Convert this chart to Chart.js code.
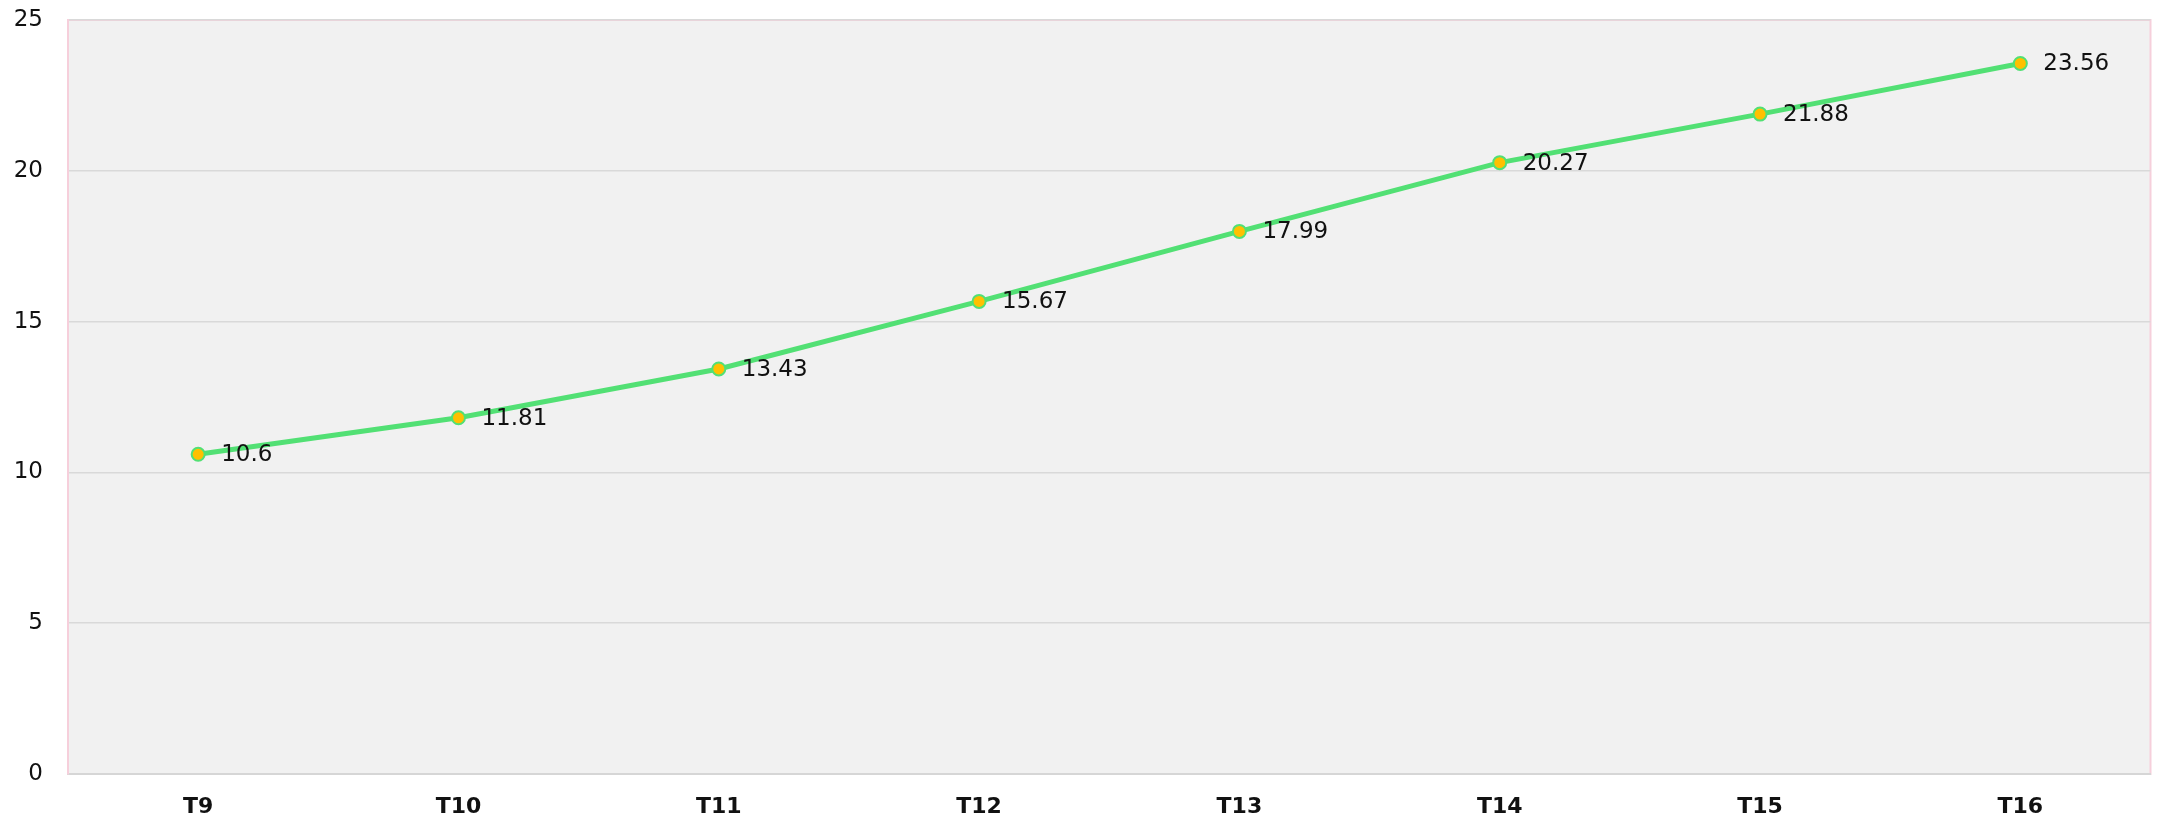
<!DOCTYPE html>
<html>
<head>
<meta charset="utf-8">
<script src="https://cdn.jsdelivr.net/npm/chart.js@4/dist/chart.umd.min.js"></script>
<style>
  html, body { margin: 0; padding: 0; background: #fff; }
  #wrap { width: 2159px; height: 822px; }
</style>
</head>
<body>
<div id="wrap"><canvas id="chart"></canvas></div>
<script>
const labels = ['T9', 'T10', 'T11', 'T12', 'T13', 'T14', 'T15', 'T16'];
const valores = [10.6, 11.81, 13.43, 15.67, 17.99, 20.27, 21.88, 23.56];
const yTicks = [0, 5, 10, 15, 20, 25];

const FONTE = '"DejaVu Sans", sans-serif';

// fundo cinza + borda rosa da área do gráfico
const plotBg = {
  id: 'plotBg',
  beforeDraw(chart) {
    const { ctx, chartArea: a } = chart;
    ctx.save();
    ctx.fillStyle = '#f1f1f1';
    ctx.fillRect(a.left, a.top, a.right - a.left, a.bottom - a.top);
    ctx.strokeStyle = '#f6cfdb';
    ctx.lineWidth = 2;
    ctx.strokeRect(a.left, a.top, a.right - a.left, a.bottom - a.top);
    ctx.restore();
  },
};

// rótulos de valor à direita de cada ponto
const valueLabels = {
  id: 'valueLabels',
  afterDatasetsDraw(chart) {
    const { ctx } = chart;
    const meta = chart.getDatasetMeta(0);
    ctx.save();
    ctx.font = '23px ' + FONTE;
    ctx.fillStyle = '#111';
    ctx.textAlign = 'left';
    ctx.textBaseline = 'middle';
    meta.data.forEach((pt, i) => {
      ctx.fillText(String(valores[i]), pt.x + 23, pt.y + 1);
    });
    ctx.restore();
  },
};

new Chart(document.getElementById('chart'), {
  type: 'line',
  data: {
    labels,
    datasets: [{
      data: valores,
      borderColor: '#52e074',
      borderWidth: 5,
      backgroundColor: '#ffc000',
      pointBackgroundColor: '#ffc000',
      pointBorderColor: '#52e074',
      pointBorderWidth: 2,
      pointRadius: 6.5,
      tension: 0,
      fill: false,
    }],
  },
  options: {
    responsive: true,
    maintainAspectRatio: false,
    animation: false,
    layout: { padding: { top: 20, right: 8, left: 0, bottom: 0 } },
    plugins: { legend: { display: false }, tooltip: { enabled: false } },
    scales: {
      x: {
        offset: true,
        grid: { display: false },
        border: { color: '#d6d6d6', width: 2 },
        ticks: { color: '#111', padding: 12, font: { family: FONTE, size: 22, weight: 'bold' } },
        afterFit: s => { s.height = 48; s.paddingLeft = 0; s.paddingRight = 0; },
      },
      y: {
        min: yTicks[0],
        max: yTicks[yTicks.length - 1],
        ticks: {
          stepSize: 5,
          color: '#111',
          padding: 25,
          font: { family: FONTE, size: 23 },
        },
        grid: { color: '#d9d9d9', lineWidth: 1.5, drawTicks: false },
        border: { color: '#f6cfdb', width: 2 },
        afterFit: s => { s.width = 68; s.paddingTop = 0; s.paddingBottom = 0; },
      },
    },
  },
  plugins: [plotBg, valueLabels],
});
</script>
</body>
</html>
